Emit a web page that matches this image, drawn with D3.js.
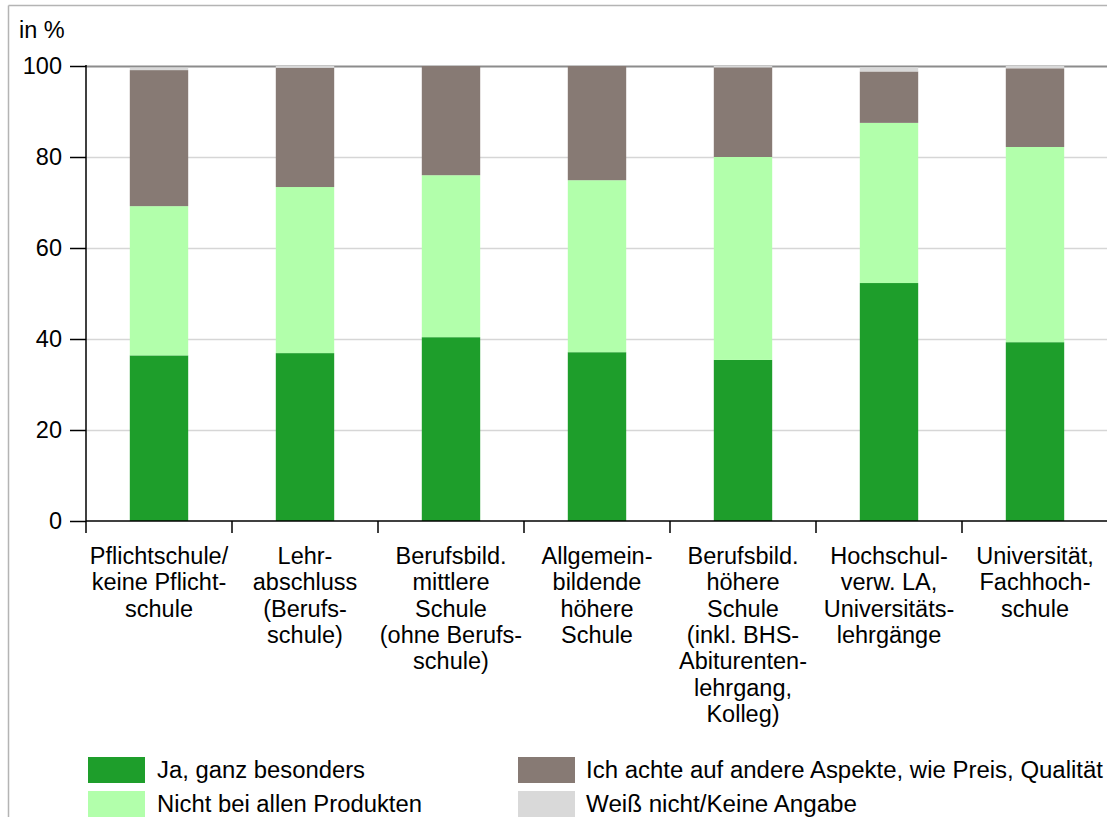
<!DOCTYPE html>
<html><head><meta charset="utf-8">
<script src="https://cdn.jsdelivr.net/npm/d3@7"></script>
<style>html,body{margin:0;padding:0;background:#fff;}svg{display:block;font-family:"Liberation Sans",Arial,sans-serif;}</style>
</head><body>
<svg id="chart" width="1107" height="817"></svg>
<script>
const categories = [
  ["Pflichtschule/","keine Pflicht-","schule"],
  ["Lehr-","abschluss","(Berufs-","schule)"],
  ["Berufsbild.","mittlere","Schule","(ohne Berufs-","schule)"],
  ["Allgemein-","bildende","höhere","Schule"],
  ["Berufsbild.","höhere","Schule","(inkl. BHS-","Abiturenten-","lehrgang,","Kolleg)"],
  ["Hochschul-","verw. LA,","Universitäts-","lehrgänge"],
  ["Universität,","Fachhoch-","schule"]
];
const seriesNames = ["Ja, ganz besonders","Nicht bei allen Produkten","Ich achte auf andere Aspekte, wie Preis, Qualität","Weiß nicht/Keine Angabe"];
const jaGanzBesonders = [36.4, 36.9, 40.4, 37.1, 35.4, 52.3, 39.3];
const nichtBeiAllen   = [32.8, 36.5, 35.6, 37.8, 44.6, 35.2, 42.9];
const andereAspekte   = [29.9, 26.2, 24.0, 25.1, 19.7, 11.3, 17.3];
const weissNicht      = [0.5, 0.4, 0.0, 0.0, 0.3, 0.9, 0.5];
const yTicks = [0, 20, 40, 60, 80, 100];
const colors = ["#1e9e2b", "#b2ffab", "#877a74", "#d9d9d9"];

(function(){
const svg = d3.select("#chart");
const pLeft = 86, pRight = 1108, pTop = 66, pBottom = 521;
const fs = 23.5;
const keys = ["a","b","c","d"];
const rows = categories.map((c,i)=>({idx:i, a:jaGanzBesonders[i], b:nichtBeiAllen[i], c:andereAspekte[i], d:weissNicht[i]}));

const x = d3.scaleBand().domain(d3.range(categories.length)).range([pLeft, pRight]).paddingInner(0.6).paddingOuter(0.3);
const y = d3.scaleLinear().domain([0,100]).range([pBottom, pTop]);

// frame
svg.append("line").attr("x1",8.5).attr("x2",1107).attr("y1",5.5).attr("y2",5.5).attr("stroke","#b4b4b4").attr("stroke-width",1.5);
svg.append("line").attr("x1",8.5).attr("x2",8.5).attr("y1",5.5).attr("y2",817).attr("stroke","#b4b4b4").attr("stroke-width",1.5);

// gridlines
svg.append("g").selectAll("line").data(yTicks.filter(t=>t>0)).join("line")
  .attr("x1",pLeft).attr("x2",1107).attr("y1",d=>Math.round(y(d))+0.5).attr("y2",d=>Math.round(y(d))+0.5)
  .attr("stroke",d=>d===100?"#8c8c8c":"#d6d6d6").attr("stroke-width",d=>d===100?2:1.3);

// bars
const stack = d3.stack().keys(keys)(rows);
svg.append("g").selectAll("g").data(stack).join("g").attr("fill",(d,i)=>colors[i])
  .selectAll("rect").data(d=>d).join("rect")
  .attr("x",d=>x(d.data.idx)).attr("width",x.bandwidth())
  .attr("y",d=>y(d[1])).attr("height",d=>Math.max(0,y(d[0])-y(d[1])));

// y axis
const yAxis = d3.axisLeft(y).tickValues(yTicks).tickSize(16).tickPadding(8).tickFormat(d3.format("d"));
const gy = svg.append("g").attr("transform",`translate(${pLeft},0)`).call(yAxis);
gy.select(".domain").remove();
gy.selectAll(".tick line").attr("stroke","#000").attr("stroke-width",1.5);
gy.selectAll(".tick text").attr("font-size",fs).attr("fill","#000").attr("font-family","Liberation Sans, Arial, sans-serif");
svg.append("line").attr("x1",pLeft).attr("x2",pLeft).attr("y1",pTop-1).attr("y2",pBottom+12).attr("stroke","#000").attr("stroke-width",1.5);

// x axis line
svg.append("line").attr("x1",pLeft).attr("x2",1107).attr("y1",pBottom).attr("y2",pBottom).attr("stroke","#000").attr("stroke-width",1.5);
const step = x.step();
svg.append("g").selectAll("line").data(d3.range(1,categories.length)).join("line")
  .attr("x1",i=>pLeft+i*step).attr("x2",i=>pLeft+i*step).attr("y1",pBottom).attr("y2",pBottom+12)
  .attr("stroke","#000").attr("stroke-width",1.5);

// category labels
const lab = svg.append("g").attr("font-size",fs).attr("text-anchor","middle").attr("fill","#000");
categories.forEach((lines,i)=>{
  const cx = x(i)+x.bandwidth()/2;
  const t = lab.append("text").attr("x",cx).attr("y",564);
  lines.forEach((l,j)=>t.append("tspan").attr("x",cx).attr("dy",j===0?0:26.3).text(l));
});

// y label
svg.append("text").attr("x",19).attr("y",38).attr("font-size",fs).attr("fill","#000").text("in %");

// legend
const legPos = [
  {x:88, y:757, tx:157, w:208},
  {x:88, y:791, tx:157, w:265},
  {x:518, y:757, tx:586, w:517},
  {x:518, y:791, tx:586, w:271}
];
const leg = svg.append("g");
seriesNames.forEach((n,i)=>{
  const p = legPos[i];
  leg.append("rect").attr("x",p.x).attr("y",p.y).attr("width",57).attr("height",26).attr("fill",colors[i]);
  leg.append("text").attr("x",p.tx).attr("y",p.y+21).attr("font-size",23).attr("fill","#000")
    .attr("textLength",p.w).attr("lengthAdjust","spacingAndGlyphs").text(n);
});
})();
</script>
</body></html>
